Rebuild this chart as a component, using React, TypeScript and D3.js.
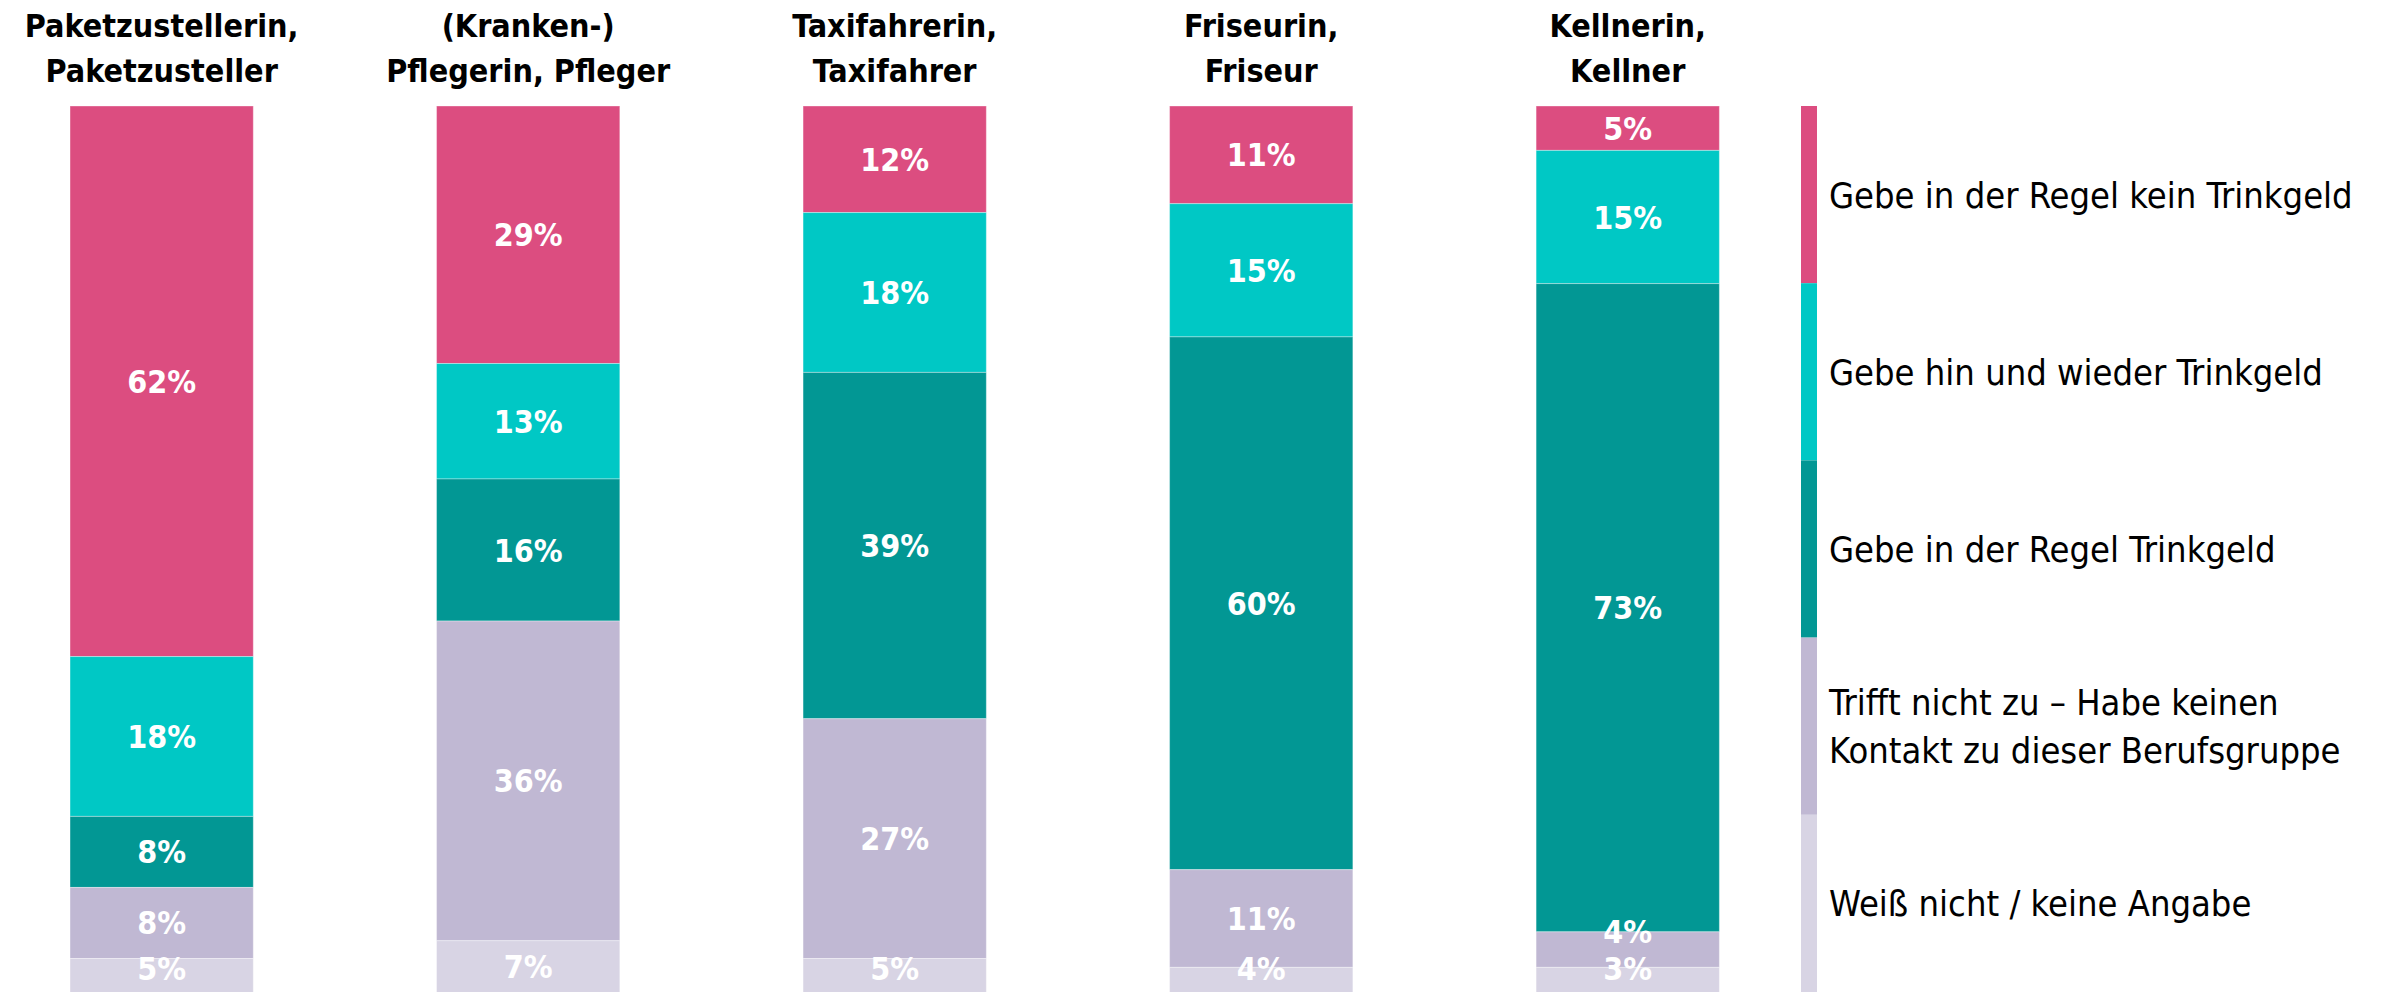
import React from "react";
import * as d3 from "d3";

const categories = [
  ["Paketzustellerin,", "Paketzusteller"],
  ["(Kranken-)", "Pflegerin, Pfleger"],
  ["Taxifahrerin,", "Taxifahrer"],
  ["Friseurin,", "Friseur"],
  ["Kellnerin,", "Kellner"],
];
const seriesNames = [
  ["Gebe in der Regel kein Trinkgeld"],
  ["Gebe hin und wieder Trinkgeld"],
  ["Gebe in der Regel Trinkgeld"],
  ["Trifft nicht zu – Habe keinen", "Kontakt zu dieser Berufsgruppe"],
  ["Weiß nicht / keine Angabe"],
];
const keinTrinkgeld = [62, 29, 12, 11, 5];
const hinUndWieder = [18, 13, 18, 15, 15];
const inDerRegel = [8, 16, 39, 60, 73];
const trifftNichtZu = [8, 36, 27, 11, 4];
const weissNicht = [5, 7, 5, 4, 3];
const colors = ["#DC4D80", "#00C8C5", "#029794", "#C0B8D3", "#D8D4E4"];

const W = 2400;
const H = 992;
const FONT = "'DejaVu Sans Condensed', 'DejaVu Sans', sans-serif";

export default function App() {
  const series = [keinTrinkgeld, hinUndWieder, inDerRegel, trifftNichtZu, weissNicht];
  const keys = categories.map((c) => c.join(" "));
  const x = d3.scaleBand().domain(keys).range([-21.6, 1811]).paddingInner(0.5).paddingOuter(0.25);
  const y = d3.scaleLinear().domain([0, 100]).range([106, 994]);
  const legendY = d3.scaleBand().domain(seriesNames.map((s) => s.join(" "))).range([106, 992]).padding(0);

  const bars = keys.map((k, i) => {
    let acc = 0;
    const segs = series.map((s, j) => {
      const y0 = acc;
      acc += s[i];
      const top = y(y0);
      const bot = y(acc);
      return { key: k, j, v: s[i], top, bot, ly: Math.min((top + Math.min(bot, H)) / 2, H - 24) };
    });
    // simple collision avoidance, bottom-up
    for (let j = segs.length - 2; j >= 0; j--) {
      if (segs[j].ly > segs[j + 1].ly - 37) segs[j].ly = segs[j + 1].ly - 37;
    }
    return segs;
  });

  return (
    <svg width={W} height={H} style={{ position: "absolute", left: 0, top: 0, background: "#fff" }} fontFamily={FONT} fontStretch="condensed">
      {categories.map((c, i) => (
        <text key={"t" + i} textAnchor="middle" fontWeight="bold" fontSize={32} fill="#000">
          <tspan x={x(keys[i])! + x.bandwidth() / 2} y={37}>{c[0]}</tspan>
          <tspan x={x(keys[i])! + x.bandwidth() / 2} y={82}>{c[1]}</tspan>
        </text>
      ))}
      {bars.map((segs) =>
        segs.map((d) => (
          <g key={d.key + d.j}>
            <rect x={x(d.key)} y={d.top} width={x.bandwidth()} height={d.bot - d.top} fill={colors[d.j]} stroke="#fff" strokeOpacity={0.35} strokeWidth={1} />
            <text x={x(d.key)! + x.bandwidth() / 2} y={d.ly} dy="0.36em" textAnchor="middle" fill="#fff" fontWeight="bold" fontSize={32}>
              {d.v}%
            </text>
          </g>
        ))
      )}
      {seriesNames.map((s, j) => {
        const k = s.join(" ");
        const top = legendY(k)!;
        const h = legendY.bandwidth();
        const cy = top + h / 2;
        return (
          <g key={"l" + j}>
            <rect x={1801} y={top} width={16} height={h} fill={colors[j]} />
            <text fontSize={36} fill="#000">
              {s.map((line, li) => (
                <tspan key={li} x={1829} y={cy + (li - (s.length - 1) / 2) * 48} dy="0.36em">
                  {line}
                </tspan>
              ))}
            </text>
          </g>
        );
      })}
    </svg>
  );
}
